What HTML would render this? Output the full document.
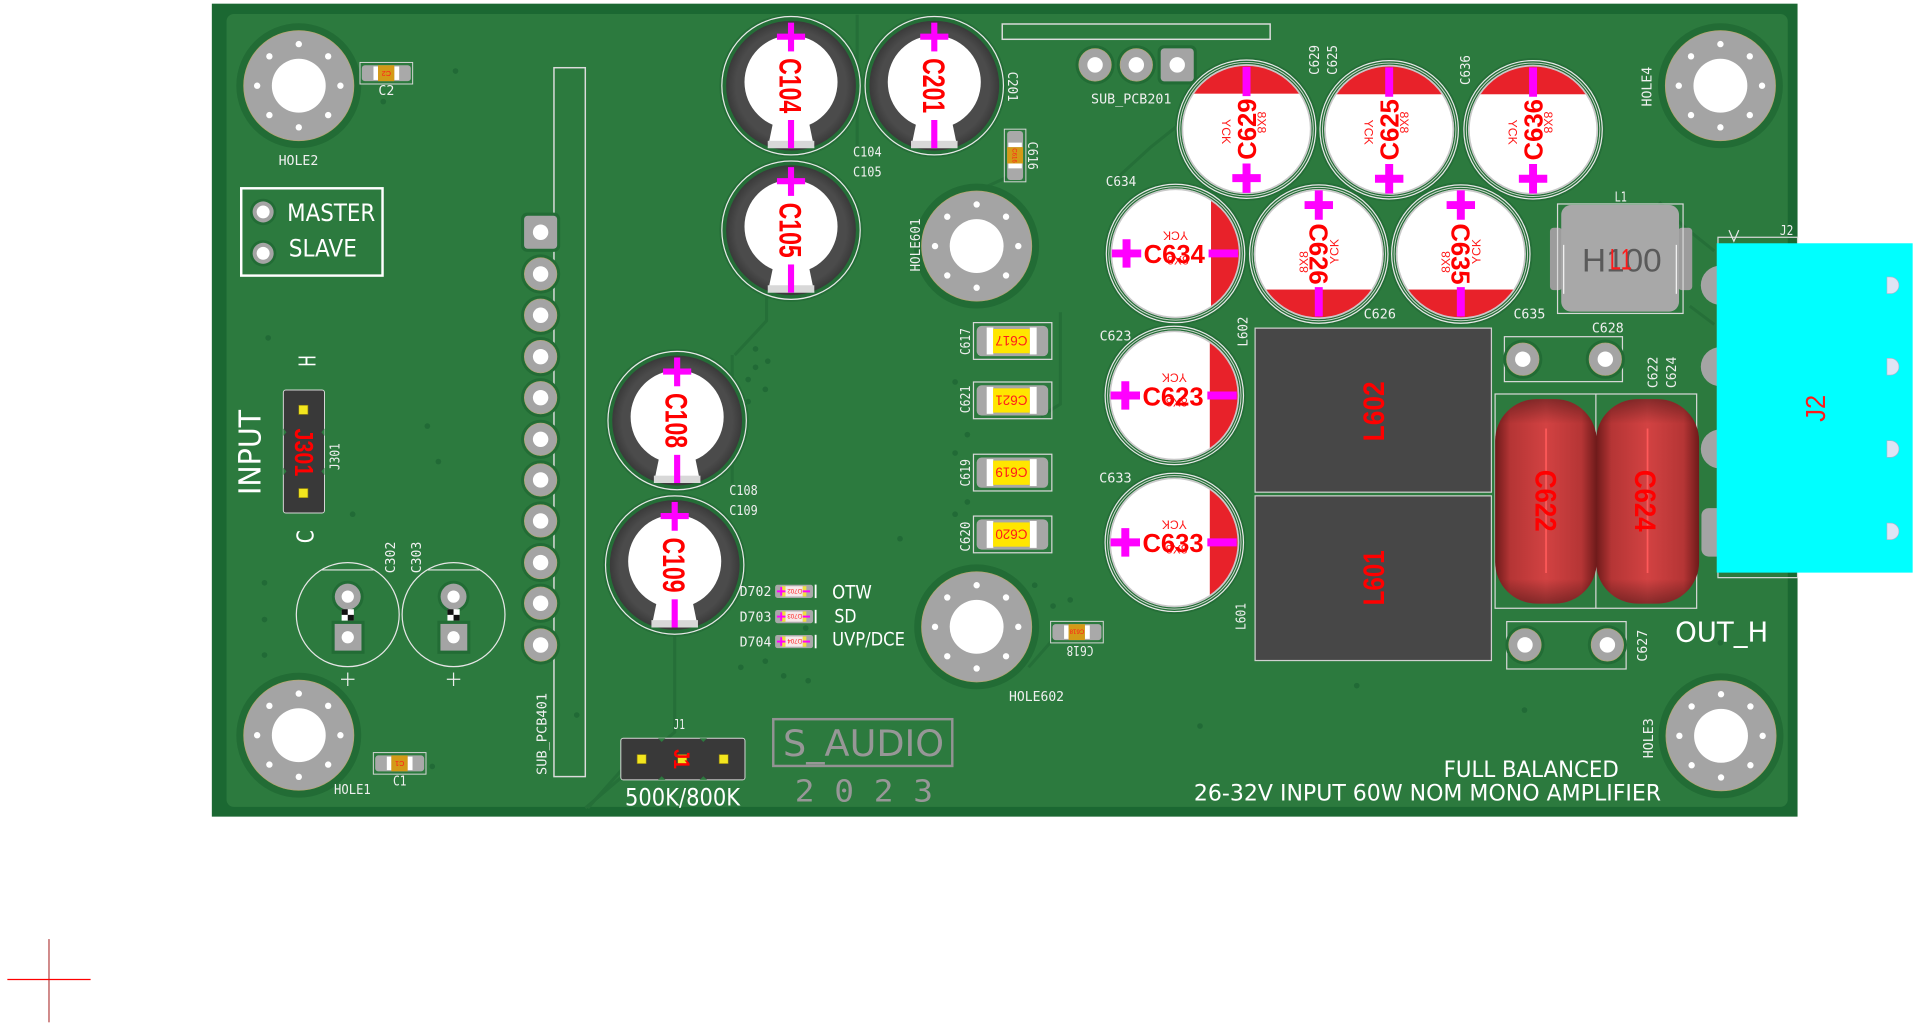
<!DOCTYPE html>
<html><head><meta charset="utf-8">
<style>
html,body{margin:0;padding:0;background:#fff;width:1920px;height:1026px;overflow:hidden}
svg{display:block}
.s{fill:#f0f0f0;font-family:"DejaVu Sans Mono","Liberation Mono",monospace;font-size:10.5px}
.w{fill:#fff;font-family:"DejaVu Sans","Liberation Sans",sans-serif}
.r{fill:#ff0000;font-family:"Liberation Sans",sans-serif;font-weight:bold}
.rs{fill:#ff1a1a;font-family:"Liberation Sans",sans-serif}
</style></head><body>
<svg width="1920" height="1026" viewBox="0 0 1568 838" preserveAspectRatio="none" xmlns="http://www.w3.org/2000/svg">
<defs>
 <g id="hole">
  <circle r="51" fill="#226c35"/>
  <circle r="45" fill="#a4a4a4" stroke="#b6a772" stroke-width="0.6"/>
  <circle r="22" fill="#fff"/>
  <g fill="#fff">
   <circle cx="34" cy="0" r="2.6"/><circle cx="24" cy="24" r="2.6"/><circle cx="0" cy="34" r="2.6"/><circle cx="-24" cy="24" r="2.6"/>
   <circle cx="-34" cy="0" r="2.6"/><circle cx="-24" cy="-24" r="2.6"/><circle cx="0" cy="-34" r="2.6"/><circle cx="24" cy="-24" r="2.6"/>
  </g>
 </g>
 <g id="pad"><circle r="16" fill="#226c35"/><circle r="13.3" fill="#a4a4a4" stroke="#b6a772" stroke-width="0.5"/><circle r="6.3" fill="#fff"/></g>
 <g id="spad"><rect x="-16" y="-16" width="32" height="32" rx="5" fill="#226c35"/><rect x="-13.5" y="-13.5" width="27" height="27" rx="3" fill="#a4a4a4"/><circle r="6.3" fill="#fff"/></g>
 <radialGradient id="ringg" r="0.5">
  <stop offset="0.85" stop-color="#4b4b4b"/><stop offset="1" stop-color="#3a3a3a"/>
 </radialGradient>
 <g id="e1">
  <circle r="58.5" fill="#246e37"/>
  <circle r="56.5" fill="none" stroke="#e8e8e8" stroke-width="1"/>
  <circle r="53" fill="url(#ringg)"/>
  <circle cy="-3" r="38" fill="#fff"/>
  <polygon points="-13,22 13,22 19,51 -19,51" fill="#fff"/>
  <rect x="-19" y="45" width="38" height="6" fill="#d8d8d8"/>
  <g stroke="#ff00ff" stroke-width="5">
   <line x1="0" y1="-51.5" x2="0" y2="-28"/><line x1="-11.5" y1="-40" x2="11.5" y2="-40"/><line x1="0" y1="28" x2="0" y2="51"/>
  </g>
 </g>
 <clipPath id="cb"><circle r="53"/></clipPath>
 <g id="e2">
  <circle r="58.5" fill="#246e37"/>
  <circle r="56.5" fill="none" stroke="#e8e8e8" stroke-width="1"/>
  <circle r="54.5" fill="none" stroke="#cfd8cf" stroke-width="0.8"/>
  <circle r="53" fill="#fff"/>
  <rect x="29" y="-53" width="24" height="106" fill="#e8222a" clip-path="url(#cb)"/>
  <circle r="52.4" fill="none" stroke="#c9c9c9" stroke-width="1.4"/>
  <g stroke="#ff00ff" stroke-width="6.5">
   <line x1="-52" y1="0" x2="-28" y2="0"/><line x1="-40" y1="-11.6" x2="-40" y2="11.6"/><line x1="27" y1="0" x2="51" y2="0"/>
  </g>
 </g>
 <g id="bsmd">
  <rect x="-32" y="-15" width="64" height="30" fill="none" stroke="#d8d8d8" stroke-width="1"/>
  <rect x="-29.4" y="-12.3" width="58.4" height="24.7" rx="4" fill="#a7a7a7"/>
  <rect x="-21.2" y="-11" width="5.4" height="22" fill="#fff"/>
  <rect x="14" y="-11" width="5.6" height="22" fill="#fff"/>
  <rect x="-16" y="-9.8" width="30" height="19.8" fill="#ffe600"/>
 </g>
 <g id="ssmd">
  <rect x="-21.5" y="-8.8" width="43" height="17.6" fill="none" stroke="#d8d8d8" stroke-width="0.8"/>
  <rect x="-20" y="-6.5" width="40" height="13" rx="2.5" fill="#a9a9a9"/>
  <rect x="-10.5" y="-5.5" width="3.7" height="11" fill="#fff"/>
  <rect x="6.5" y="-5.5" width="4" height="11" fill="#fff"/>
  <rect x="-6.8" y="-6.5" width="13.3" height="13" fill="#d49a17"/>
 </g>
 <g id="diode">
  <rect x="-15.5" y="-5.4" width="31" height="10.8" rx="2" fill="#a9a9a9"/>
  <rect x="-10" y="-4.2" width="3" height="8.4" fill="#f0e040"/>
  <rect x="7" y="-4.2" width="3" height="8.4" fill="#f0e040"/>
  <rect x="-7" y="-4.2" width="14" height="8.4" fill="#f7e8ea"/>
  <g stroke="#ff00ff" stroke-width="1.6">
   <line x1="-14" y1="0" x2="-7" y2="0"/><line x1="-10.5" y1="-3.5" x2="-10.5" y2="3.5"/><line x1="7" y1="0" x2="13" y2="0"/>
  </g>
  <line x1="17.6" y1="-5.5" x2="17.6" y2="5.5" stroke="#fff" stroke-width="1.5"/>
 </g>
 <linearGradient id="film" x1="0" y1="0" x2="1" y2="0">
  <stop offset="0" stop-color="#6e1a1a"/><stop offset="0.15" stop-color="#b53535"/>
  <stop offset="0.5" stop-color="#d24242"/><stop offset="0.85" stop-color="#b53535"/><stop offset="1" stop-color="#6e1a1a"/>
 </linearGradient>
 <linearGradient id="filmv" x1="0" y1="0" x2="0" y2="1">
  <stop offset="0" stop-color="#000" stop-opacity="0.35"/><stop offset="0.12" stop-color="#000" stop-opacity="0"/>
  <stop offset="0.88" stop-color="#000" stop-opacity="0"/><stop offset="1" stop-color="#000" stop-opacity="0.35"/>
 </linearGradient>
 <g id="notch"><path d="M0,-6.8 L3,-6.8 A6.8,6.8 0 0 1 3,6.8 L0,6.8 Z" fill="#dfe4f4" stroke="#aab2cc" stroke-width="0.5"/></g>
</defs>

<!-- Board -->
<rect x="173" y="3" width="1295" height="664" fill="#1b6832"/>
<rect x="185" y="11.4" width="1275" height="647.6" rx="6" fill="#2c7a3e"/>

<!-- subtle traces -->
<g stroke="#256f38" stroke-width="2.5" fill="none">
 <polyline points="551,518 551,598 478,660"/>
 <line x1="700" y1="12" x2="700" y2="120"/>
 <polyline points="598,290 598,395"/>
 <polyline points="626,240 626,262 600,290"/>
 <polyline points="822,145 778,165"/>
 <polyline points="840,545 862,520"/>
 <polyline points="905,152 940,120 965,100"/>
 <polyline points="1355,165 1375,185 1400,205"/>
 <polyline points="1380,250 1400,265"/>
 <polyline points="866,255 866,330 850,340"/>
 <polyline points="520,615 480,660"/>
</g>
<g fill="#216a36">
 <circle cx="372" cy="58" r="2.3"/><circle cx="313" cy="83" r="2.3"/><circle cx="219" cy="276" r="2.3"/>
 <circle cx="349" cy="348" r="2.3"/><circle cx="358" cy="377" r="2.3"/><circle cx="288" cy="420" r="2.3"/>
 <circle cx="216" cy="476" r="2.3"/><circle cx="216" cy="506" r="2.3"/><circle cx="216" cy="535" r="2.3"/>
 <circle cx="471" cy="584" r="2.3"/><circle cx="353" cy="626" r="2.3"/>
 <circle cx="617" cy="285" r="2.3"/><circle cx="617" cy="300" r="2.3"/><circle cx="627" cy="295" r="2.3"/>
 <circle cx="611" cy="310" r="2.3"/><circle cx="625" cy="318" r="2.3"/><circle cx="611" cy="328" r="2.3"/>
 <circle cx="780" cy="312" r="2.3"/><circle cx="790" cy="355" r="2.3"/><circle cx="780" cy="370" r="2.3"/>
 <circle cx="790" cy="410" r="2.3"/><circle cx="780" cy="420" r="2.3"/><circle cx="735" cy="440" r="2.3"/>
 <circle cx="658" cy="513" r="2.3"/><circle cx="625" cy="540" r="2.3"/><circle cx="605" cy="545" r="2.3"/>
 <circle cx="640" cy="552" r="2.3"/><circle cx="660" cy="556" r="2.3"/><circle cx="845" cy="478" r="2.3"/>
 <circle cx="860" cy="495" r="2.3"/><circle cx="874" cy="490" r="2.3"/><circle cx="1108" cy="560" r="2.3"/>
 <circle cx="1245" cy="580" r="2.3"/><circle cx="980" cy="593" r="2.3"/><circle cx="1405" cy="525" r="2.3"/>
 <circle cx="946" cy="178" r="2.3"/><circle cx="908" cy="196" r="2.3"/><circle cx="910" cy="214" r="2.3"/>
</g>

<!-- Holes -->
<use href="#hole" x="244" y="70"/>
<use href="#hole" x="244" y="600.5"/>
<use href="#hole" x="1405" y="70"/>
<use href="#hole" x="1405.5" y="601"/>
<use href="#hole" x="797.6" y="201"/>
<use href="#hole" x="797.6" y="512"/>
<text class="s" x="227.5" y="134.7" textLength="32.5" lengthAdjust="spacingAndGlyphs">HOLE2</text>
<text class="s" x="272.8" y="648.5" textLength="30" lengthAdjust="spacingAndGlyphs">HOLE1</text>
<text class="s" transform="translate(1348.6,87) rotate(-90)" textLength="32.5" lengthAdjust="spacingAndGlyphs">HOLE4</text>
<text class="s" transform="translate(1350,619.3) rotate(-90)" textLength="32.7" lengthAdjust="spacingAndGlyphs">HOLE3</text>
<text class="s" transform="translate(751.3,221.8) rotate(-90)" textLength="43.4" lengthAdjust="spacingAndGlyphs">HOLE601</text>
<text class="s" x="824" y="572.5" textLength="45" lengthAdjust="spacingAndGlyphs">HOLE602</text>

<!-- C2 / C1 -->
<use href="#ssmd" x="315.5" y="59.8"/>
<text class="rs" transform="translate(315.5,59.8) rotate(180)" text-anchor="middle" y="2" font-size="6">C2</text>
<text class="s" x="309" y="77.6" textLength="13" lengthAdjust="spacingAndGlyphs">C2</text>
<use href="#ssmd" x="326.4" y="623.5"/>
<text class="rs" transform="translate(326.4,623.5) rotate(180)" text-anchor="middle" y="2" font-size="6">C1</text>
<text class="s" x="321" y="641.6" textLength="11" lengthAdjust="spacingAndGlyphs">C1</text>

<!-- MASTER / SLAVE -->
<rect x="197" y="153.8" width="115.4" height="71.3" fill="none" stroke="#fff" stroke-width="2"/>
<circle cx="214.9" cy="173.1" r="10.8" fill="#226c35"/><circle cx="214.9" cy="173.1" r="8.6" fill="#a4a4a4"/><circle cx="214.9" cy="173.1" r="5.3" fill="#fff"/>
<circle cx="214.9" cy="206.9" r="10.8" fill="#226c35"/><circle cx="214.9" cy="206.9" r="8.6" fill="#a4a4a4"/><circle cx="214.9" cy="206.9" r="5.3" fill="#fff"/>
<text class="w" x="234.5" y="180.5" font-size="19.3" textLength="72" lengthAdjust="spacingAndGlyphs">MASTER</text>
<text class="w" x="235.8" y="209.6" font-size="19.3" textLength="55.7" lengthAdjust="spacingAndGlyphs">SLAVE</text>

<!-- INPUT / J301 -->
<text class="w" transform="translate(212.7,404.3) rotate(-90)" font-size="25" textLength="69.5" lengthAdjust="spacingAndGlyphs">INPUT</text>
<text class="w" transform="translate(257.7,299.5) rotate(-90)" font-size="19" textLength="9.5" lengthAdjust="spacingAndGlyphs">H</text>
<text class="w" transform="translate(256,443.6) rotate(-90)" font-size="19" textLength="10.6" lengthAdjust="spacingAndGlyphs">C</text>
<rect x="231.4" y="318.5" width="33.6" height="100.5" rx="2" fill="#393939" stroke="#d8d8d8" stroke-width="0.8"/>
<polygon points="231.4,350 234,353 231.4,356" fill="#2c7a3e"/><polygon points="265,350 262.4,353 265,356" fill="#2c7a3e"/>
<polygon points="231.4,382 234,385 231.4,388" fill="#2c7a3e"/><polygon points="265,382 262.4,385 265,388" fill="#2c7a3e"/>
<rect x="244" y="331" width="7.5" height="7.5" fill="#f3e61e" stroke="#8a7a10" stroke-width="0.5"/>
<rect x="244" y="399" width="7.5" height="7.5" fill="#f3e61e" stroke="#8a7a10" stroke-width="0.5"/>
<text class="r" transform="translate(248.5,369.5) rotate(90)" text-anchor="middle" y="7.5" font-size="21" textLength="39" lengthAdjust="spacingAndGlyphs">J301</text>
<text class="s" transform="translate(277.4,384) rotate(-90)" textLength="22" lengthAdjust="spacingAndGlyphs">J301</text>

<!-- C302 / C303 -->
<g fill="none" stroke="#e6e6e6" stroke-width="1">
 <ellipse cx="284" cy="502" rx="42" ry="42.5"/><line x1="263" y1="465.5" x2="305" y2="465.5"/>
 <ellipse cx="370.4" cy="502" rx="42" ry="42.5"/><line x1="349.4" y1="465.5" x2="391.4" y2="465.5"/>
</g>
<g>
 <circle cx="284" cy="487.3" r="13" fill="#226c35"/><circle cx="284" cy="487.3" r="10.6" fill="#a4a4a4"/><circle cx="284" cy="487.3" r="5" fill="#fff"/>
 <rect x="270.8" y="507" width="26.9" height="27" fill="#226c35"/><rect x="273.3" y="509.6" width="21.9" height="21.8" fill="#a4a4a4"/><circle cx="284" cy="520.5" r="5" fill="#fff"/>
 <rect x="279" y="497.6" width="10" height="9.3" fill="#fff"/><rect x="279" y="497.6" width="5" height="4.6" fill="#111"/><rect x="284" y="502.2" width="5" height="4.7" fill="#111"/>
 <circle cx="370.4" cy="487.3" r="13" fill="#226c35"/><circle cx="370.4" cy="487.3" r="10.6" fill="#a4a4a4"/><circle cx="370.4" cy="487.3" r="5" fill="#fff"/>
 <rect x="357.2" y="507" width="26.9" height="27" fill="#226c35"/><rect x="359.7" y="509.6" width="21.9" height="21.8" fill="#a4a4a4"/><circle cx="370.4" cy="520.5" r="5" fill="#fff"/>
 <rect x="365.4" y="497.6" width="10" height="9.3" fill="#fff"/><rect x="365.4" y="497.6" width="5" height="4.6" fill="#111"/><rect x="370.4" y="502.2" width="5" height="4.7" fill="#111"/>
</g>
<g stroke="#eee" stroke-width="1">
 <line x1="278.5" y1="554.8" x2="289.5" y2="554.8"/><line x1="284" y1="549.3" x2="284" y2="560.3"/>
 <line x1="364.9" y1="554.8" x2="375.9" y2="554.8"/><line x1="370.4" y1="549.3" x2="370.4" y2="560.3"/>
</g>
<text class="s" transform="translate(322.6,468.2) rotate(-90)" textLength="25.8" lengthAdjust="spacingAndGlyphs">C302</text>
<text class="s" transform="translate(343.8,468.2) rotate(-90)" textLength="25.8" lengthAdjust="spacingAndGlyphs">C303</text>

<!-- SUB_PCB401 -->
<rect x="452.4" y="55.3" width="25.6" height="579" fill="none" stroke="#dcdcdc" stroke-width="1.2"/>
<use href="#spad" x="441.5" y="189.7"/>
<use href="#pad" x="441.5" y="223.8"/>
<use href="#pad" x="441.5" y="257.5"/>
<use href="#pad" x="441.5" y="291.3"/>
<use href="#pad" x="441.5" y="324.8"/>
<use href="#pad" x="441.5" y="358.8"/>
<use href="#pad" x="441.5" y="392"/>
<use href="#pad" x="441.5" y="425.5"/>
<use href="#pad" x="441.5" y="459.5"/>
<use href="#pad" x="441.5" y="492.7"/>
<use href="#pad" x="441.5" y="526.8"/>
<text class="s" transform="translate(446.2,633) rotate(-90)" textLength="67" lengthAdjust="spacingAndGlyphs">SUB_PCB401</text>

<!-- Electrolytic caps (dark) -->
<use href="#e1" x="646" y="70"/>
<use href="#e1" x="763" y="70"/>
<use href="#e1" x="646" y="188"/>
<use href="#e1" x="553" y="343.5"/>
<use href="#e1" x="551" y="461.5"/>
<text class="r" transform="translate(646,70) rotate(90)" text-anchor="middle" y="9.4" font-size="26" textLength="45" lengthAdjust="spacingAndGlyphs">C104</text>
<text class="r" transform="translate(763,70) rotate(90)" text-anchor="middle" y="9.4" font-size="26" textLength="45" lengthAdjust="spacingAndGlyphs">C201</text>
<text class="r" transform="translate(646,188) rotate(90)" text-anchor="middle" y="9.4" font-size="26" textLength="45" lengthAdjust="spacingAndGlyphs">C105</text>
<text class="r" transform="translate(553,343.5) rotate(90)" text-anchor="middle" y="9.4" font-size="26" textLength="45" lengthAdjust="spacingAndGlyphs">C108</text>
<text class="r" transform="translate(551,461.5) rotate(90)" text-anchor="middle" y="9.4" font-size="26" textLength="45" lengthAdjust="spacingAndGlyphs">C109</text>
<text class="s" x="696.6" y="128" textLength="23.4" lengthAdjust="spacingAndGlyphs">C104</text>
<text class="s" x="696.6" y="144.3" textLength="23.4" lengthAdjust="spacingAndGlyphs">C105</text>
<text class="s" transform="translate(823,58.5) rotate(90)" textLength="24.5" lengthAdjust="spacingAndGlyphs">C201</text>
<text class="s" x="595.6" y="404.3" textLength="23.2" lengthAdjust="spacingAndGlyphs">C108</text>
<text class="s" x="595.6" y="420.6" textLength="23.2" lengthAdjust="spacingAndGlyphs">C109</text>

<!-- C616 -->
<use href="#ssmd" transform="translate(829,127) rotate(90)"/>
<text class="rs" transform="translate(829,127) rotate(90)" text-anchor="middle" y="2" font-size="5">C616</text>
<text class="s" transform="translate(839.6,115.7) rotate(90)" textLength="23" lengthAdjust="spacingAndGlyphs">C616</text>

<!-- SUB_PCB201 -->
<rect x="818.5" y="19.6" width="218.8" height="12.5" fill="none" stroke="#dcdcdc" stroke-width="1.2"/>
<use href="#pad" x="894.3" y="53"/>
<use href="#pad" x="928" y="53"/>
<use href="#spad" x="961.4" y="53"/>
<text class="s" x="891" y="84.4" textLength="65.7" lengthAdjust="spacingAndGlyphs">SUB_PCB201</text>

<!-- yellow SMD caps -->
<use href="#bsmd" x="827" y="278.5"/>
<use href="#bsmd" x="827" y="327"/>
<use href="#bsmd" x="827" y="386"/>
<use href="#bsmd" x="827" y="436.5"/>
<text class="rs" transform="translate(826,278.5) rotate(180)" text-anchor="middle" y="4" font-size="11">C617</text>
<text class="rs" transform="translate(826,327) rotate(180)" text-anchor="middle" y="4" font-size="11">C621</text>
<text class="rs" transform="translate(826,386) rotate(180)" text-anchor="middle" y="4" font-size="11">C619</text>
<text class="rs" transform="translate(826,436.5) rotate(180)" text-anchor="middle" y="4" font-size="11">C620</text>
<text class="s" transform="translate(792,290) rotate(-90)" textLength="22" lengthAdjust="spacingAndGlyphs">C617</text>
<text class="s" transform="translate(792,337.5) rotate(-90)" textLength="22.5" lengthAdjust="spacingAndGlyphs">C621</text>
<text class="s" transform="translate(792,397.4) rotate(-90)" textLength="22.4" lengthAdjust="spacingAndGlyphs">C619</text>
<text class="s" transform="translate(792,450.5) rotate(-90)" textLength="24.5" lengthAdjust="spacingAndGlyphs">C620</text>

<!-- C618 -->
<use href="#ssmd" x="879.5" y="516.3"/>
<text class="rs" transform="translate(879.5,516.3) rotate(180)" text-anchor="middle" y="2" font-size="5">C618</text>
<text class="s" transform="translate(893,527.6) rotate(180)" textLength="22" lengthAdjust="spacingAndGlyphs">C618</text>

<!-- Diodes -->
<use href="#diode" x="648.5" y="483"/>
<use href="#diode" x="648.5" y="503.6"/>
<use href="#diode" x="648.5" y="524"/>
<text class="rs" transform="translate(649,483) rotate(180)" text-anchor="middle" y="2" font-size="5">D702</text>
<text class="rs" transform="translate(649,503.6) rotate(180)" text-anchor="middle" y="2" font-size="5">D703</text>
<text class="rs" transform="translate(649,524) rotate(180)" text-anchor="middle" y="2" font-size="5">D704</text>
<text class="s" x="604" y="486.7" textLength="26" lengthAdjust="spacingAndGlyphs">D702</text>
<text class="s" x="604" y="507.7" textLength="26" lengthAdjust="spacingAndGlyphs">D703</text>
<text class="s" x="604" y="528" textLength="26" lengthAdjust="spacingAndGlyphs">D704</text>
<text class="w" x="679.6" y="489" font-size="15" textLength="32.4" lengthAdjust="spacingAndGlyphs">OTW</text>
<text class="w" x="681.4" y="508.5" font-size="15" textLength="18" lengthAdjust="spacingAndGlyphs">SD</text>
<text class="w" x="679.6" y="527.3" font-size="15" textLength="59.4" lengthAdjust="spacingAndGlyphs">UVP/DCE</text>

<!-- J1 -->
<rect x="507" y="603" width="101.4" height="34" rx="2" fill="#393939" stroke="#d8d8d8" stroke-width="0.8"/>
<polygon points="537.4,603 540.4,606 543.4,603" fill="#2c7a3e"/><polygon points="537.4,637 540.4,634 543.4,637" fill="#2c7a3e"/>
<polygon points="571.4,603 574.4,606 577.4,603" fill="#2c7a3e"/><polygon points="571.4,637 574.4,634 577.4,637" fill="#2c7a3e"/>
<rect x="520.3" y="616.3" width="7.4" height="7.4" fill="#f3e61e" stroke="#8a7a10" stroke-width="0.5"/>
<rect x="587.3" y="616.3" width="7.4" height="7.4" fill="#f3e61e" stroke="#8a7a10" stroke-width="0.5"/>
<rect x="553.5" y="616.3" width="7.4" height="7.4" fill="#f3e61e" stroke="#8a7a10" stroke-width="0.5"/>
<text class="r" transform="translate(557,620) rotate(90)" text-anchor="middle" y="6.5" font-size="18" textLength="16" lengthAdjust="spacingAndGlyphs">J1</text>
<text class="s" x="550" y="595.6" textLength="9.4" lengthAdjust="spacingAndGlyphs">J1</text>
<text class="w" x="510.4" y="658" font-size="19.3" textLength="94" lengthAdjust="spacingAndGlyphs">500K/800K</text>

<!-- S_AUDIO -->
<rect x="631.5" y="587.4" width="146.2" height="38.2" fill="none" stroke="#939393" stroke-width="2"/>
<text x="639.5" y="617.4" font-family="'DejaVu Sans','Liberation Sans',sans-serif" font-size="29.5" fill="#979797" textLength="131.5" lengthAdjust="spacingAndGlyphs">S_AUDIO</text>
<text x="649" y="654.7" font-family="'DejaVu Sans Mono','Liberation Mono',monospace" font-size="25" fill="#979797" textLength="113" lengthAdjust="spacingAndGlyphs">2 0 2 3</text>

<!-- Big electrolytic caps (white/red) -->
<use href="#e2" transform="translate(1018,105.5) rotate(-90)"/>
<use href="#e2" transform="translate(1134.5,106) rotate(-90)"/>
<use href="#e2" transform="translate(1252,106) rotate(-90)"/>
<use href="#e2" transform="translate(960,207)"/>
<use href="#e2" transform="translate(1077,207.5) rotate(90)"/>
<use href="#e2" transform="translate(1193,207.5) rotate(90)"/>
<use href="#e2" transform="translate(959,323)"/>
<use href="#e2" transform="translate(959,443)"/>

<g class="rs" font-size="10" text-anchor="middle">
 <text transform="translate(998,107.5) rotate(90)">YCK</text>
 <text transform="translate(1114.5,108) rotate(90)">YCK</text>
 <text transform="translate(1232,108) rotate(90)">YCK</text>
 <text transform="translate(1027,100) rotate(90)">8X8</text>
 <text transform="translate(1143.5,100) rotate(90)">8X8</text>
 <text transform="translate(1261,100) rotate(90)">8X8</text>
 <text transform="translate(1093,205.5) rotate(-90)">YCK</text>
 <text transform="translate(1209,205.5) rotate(-90)">YCK</text>
 <text transform="translate(1068,214) rotate(-90)">8X8</text>
 <text transform="translate(1184,214) rotate(-90)">8X8</text>
 <text transform="translate(960,189) rotate(180)">YCK</text>
 <text transform="translate(962,209) rotate(180)">8X8</text>
 <text transform="translate(959,305) rotate(180)">YCK</text>
 <text transform="translate(961,325) rotate(180)">8X8</text>
 <text transform="translate(959,425) rotate(180)">YCK</text>
 <text transform="translate(961,445) rotate(180)">8X8</text>
</g>
<text class="r" transform="translate(1018,105.5) rotate(-90)" text-anchor="middle" y="7.6" font-size="21" textLength="50" lengthAdjust="spacingAndGlyphs">C629</text>
<text class="r" transform="translate(1134.5,106) rotate(-90)" text-anchor="middle" y="7.6" font-size="21" textLength="50" lengthAdjust="spacingAndGlyphs">C625</text>
<text class="r" transform="translate(1252,106) rotate(-90)" text-anchor="middle" y="7.6" font-size="21" textLength="50" lengthAdjust="spacingAndGlyphs">C636</text>
<text class="r" transform="translate(1077,207.5) rotate(90)" text-anchor="middle" y="7.6" font-size="21" textLength="50" lengthAdjust="spacingAndGlyphs">C626</text>
<text class="r" transform="translate(1193,207.5) rotate(90)" text-anchor="middle" y="7.6" font-size="21" textLength="50" lengthAdjust="spacingAndGlyphs">C635</text>
<text class="r" x="959" y="215" text-anchor="middle" font-size="21" textLength="50" lengthAdjust="spacingAndGlyphs">C634</text>
<text class="r" x="958" y="331" text-anchor="middle" font-size="21" textLength="50" lengthAdjust="spacingAndGlyphs">C623</text>
<text class="r" x="958" y="451" text-anchor="middle" font-size="21" textLength="50" lengthAdjust="spacingAndGlyphs">C633</text>

<text class="s" transform="translate(1077,61.2) rotate(-90)" textLength="24.5" lengthAdjust="spacingAndGlyphs">C629</text>
<text class="s" transform="translate(1092,61.2) rotate(-90)" textLength="24.5" lengthAdjust="spacingAndGlyphs">C625</text>
<text class="s" transform="translate(1200.5,69.4) rotate(-90)" textLength="24.4" lengthAdjust="spacingAndGlyphs">C636</text>
<text class="s" x="903" y="151.9" textLength="25" lengthAdjust="spacingAndGlyphs">C634</text>
<text class="s" x="898" y="278" textLength="26" lengthAdjust="spacingAndGlyphs">C623</text>
<text class="s" x="897.6" y="394.2" textLength="26.6" lengthAdjust="spacingAndGlyphs">C633</text>
<text class="s" x="1113.6" y="260" textLength="26.4" lengthAdjust="spacingAndGlyphs">C626</text>
<text class="s" x="1236" y="260" textLength="26" lengthAdjust="spacingAndGlyphs">C635</text>

<!-- L602 / L601 -->
<rect x="1025" y="268" width="193" height="134" fill="#474747" stroke="#d0d0d0" stroke-width="1"/>
<rect x="1025" y="405" width="193" height="134.5" fill="#474747" stroke="#d0d0d0" stroke-width="1"/>
<text class="r" transform="translate(1121.5,336) rotate(-90)" text-anchor="middle" y="8.6" font-size="24" textLength="49" lengthAdjust="spacingAndGlyphs">L602</text>
<text class="r" transform="translate(1121.5,472) rotate(-90)" text-anchor="middle" y="8.6" font-size="24" textLength="45" lengthAdjust="spacingAndGlyphs">L601</text>
<text class="s" transform="translate(1018.6,283) rotate(-90)" textLength="24.4" lengthAdjust="spacingAndGlyphs">L602</text>
<text class="s" transform="translate(1017,514.5) rotate(-90)" textLength="22" lengthAdjust="spacingAndGlyphs">L601</text>

<!-- C628 / C627 -->
<rect x="1228.6" y="275" width="96.4" height="36.7" fill="none" stroke="#d8d8d8" stroke-width="1"/>
<use href="#pad" x="1243.6" y="293.4"/>
<use href="#pad" x="1311" y="293.4"/>
<text class="s" x="1300" y="271.7" textLength="26" lengthAdjust="spacingAndGlyphs">C628</text>
<rect x="1230.5" y="507.7" width="97.5" height="38.7" fill="none" stroke="#d8d8d8" stroke-width="1"/>
<use href="#pad" x="1245.4" y="526.7"/>
<use href="#pad" x="1312.7" y="526.7"/>
<text class="s" transform="translate(1345,540.4) rotate(-90)" textLength="26" lengthAdjust="spacingAndGlyphs">C627</text>

<!-- Film caps C622 / C624 -->
<rect x="1221" y="321.8" width="164.6" height="175" fill="none" stroke="#d8d8d8" stroke-width="1"/>
<line x1="1303.3" y1="321.8" x2="1303.3" y2="496.8" stroke="#d8d8d8" stroke-width="1"/>
<rect x="1221" y="326" width="83" height="167" rx="34" fill="url(#film)"/>
<rect x="1221" y="326" width="83" height="167" rx="34" fill="url(#filmv)"/>
<rect x="1303.4" y="326" width="84.2" height="167" rx="34" fill="url(#film)"/>
<rect x="1303.4" y="326" width="84.2" height="167" rx="34" fill="url(#filmv)"/>
<line x1="1262.6" y1="350" x2="1262.6" y2="468" stroke="#ff5a5a" stroke-width="1.4"/>
<line x1="1345.5" y1="350" x2="1345.5" y2="468" stroke="#ff5a5a" stroke-width="1.4"/>
<text class="r" transform="translate(1262.5,409) rotate(90)" text-anchor="middle" y="8.6" font-size="24" textLength="50.4" lengthAdjust="spacingAndGlyphs">C622</text>
<text class="r" transform="translate(1344,409) rotate(90)" text-anchor="middle" y="8.6" font-size="24" textLength="50.4" lengthAdjust="spacingAndGlyphs">C624</text>
<text class="s" transform="translate(1353.5,317) rotate(-90)" textLength="25.7" lengthAdjust="spacingAndGlyphs">C622</text>
<text class="s" transform="translate(1368.6,317) rotate(-90)" textLength="25.7" lengthAdjust="spacingAndGlyphs">C624</text>

<!-- L1 -->
<rect x="1265.8" y="186" width="10" height="51" rx="3" fill="#9c9c9c"/>
<rect x="1370.5" y="186" width="11.5" height="51" rx="3" fill="#9c9c9c"/>
<rect x="1272" y="166.6" width="102.5" height="89.4" fill="none" stroke="#d8d8d8" stroke-width="1"/>
<rect x="1275" y="167.4" width="96.2" height="87.1" rx="8" fill="#a8a8a8"/>
<line x1="1277" y1="200" x2="1277" y2="240" stroke="#f4f4f4" stroke-width="1"/>
<line x1="1369" y1="200" x2="1369" y2="240" stroke="#f4f4f4" stroke-width="1"/>
<text x="1292" y="221.9" font-family="'Liberation Sans',sans-serif" font-size="26.5" fill="#5a5a5a" textLength="65" lengthAdjust="spacingAndGlyphs">H100</text>
<text class="rs" x="1314.6" y="220" font-size="24" textLength="18" lengthAdjust="spacingAndGlyphs">L1</text>
<text class="s" x="1318.6" y="164.7" textLength="10" lengthAdjust="spacingAndGlyphs">L1</text>

<!-- J2 -->
<g fill="#a4a4a4">
 <circle cx="1405" cy="233" r="16"/><circle cx="1405" cy="299.5" r="16"/><circle cx="1405" cy="366.7" r="16"/>
 <rect x="1389.5" y="415" width="30" height="39.6" rx="6"/>
</g>
<rect x="1403" y="193.8" width="65" height="278" fill="none" stroke="#d8d8d8" stroke-width="1"/>
<polyline points="1412,188 1416,197 1420,188" fill="none" stroke="#e8e8e8" stroke-width="1"/>
<text class="s" x="1453.6" y="192" textLength="11" lengthAdjust="spacingAndGlyphs">J2</text>
<rect x="1402" y="198.7" width="160" height="269" fill="#00ffff"/>
<use href="#notch" x="1541" y="233"/>
<use href="#notch" x="1541" y="299.5"/>
<use href="#notch" x="1541" y="366.7"/>
<use href="#notch" x="1541" y="434"/>
<text class="rs" transform="translate(1482,333.5) rotate(-90)" text-anchor="middle" y="8.3" font-size="23" textLength="22" lengthAdjust="spacingAndGlyphs">J2</text>

<!-- bottom texts -->
<text class="w" x="1368" y="524" font-size="22.7" textLength="76" lengthAdjust="spacingAndGlyphs">OUT_H</text>
<text class="w" x="1179" y="634.6" font-size="17.8" textLength="143" lengthAdjust="spacingAndGlyphs">FULL BALANCED</text>
<text class="w" x="975" y="654" font-size="17.8" textLength="381.6" lengthAdjust="spacingAndGlyphs">26-32V INPUT 60W NOM MONO AMPLIFIER</text>

<!-- crosshair -->
<line x1="40" y1="767" x2="40" y2="835" stroke="#d08a8a" stroke-width="1.6"/>
<line x1="6" y1="800" x2="74" y2="800" stroke="#ff0000" stroke-width="1"/>
</svg>
</body></html>
